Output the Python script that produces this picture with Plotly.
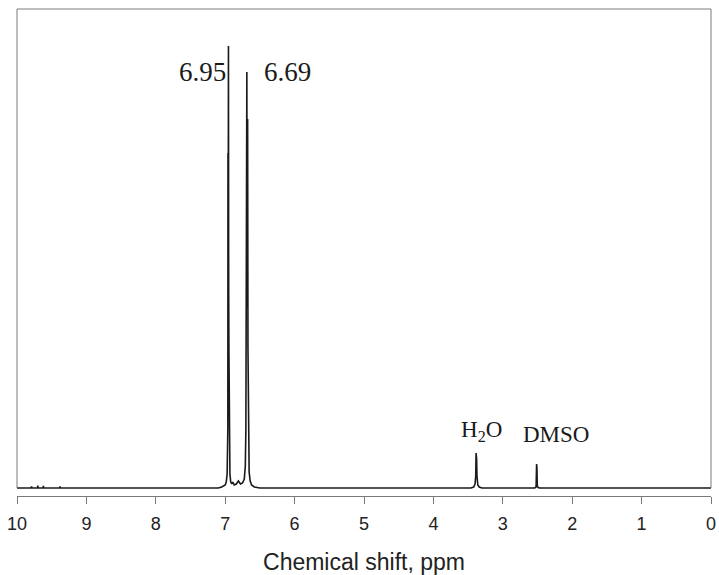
import plotly.graph_objects as go

# Spectrum trace (chemical shift in ppm, intensity in arbitrary units)
ppm = [10.0, 9.80, 9.79, 9.785, 9.705, 9.70, 9.695, 9.625, 9.62, 9.615, 9.385, 9.38, 9.375,
       7.10, 7.05, 7.00, 6.985, 6.972, 6.962, 6.960, 6.958, 6.953, 6.950, 6.946, 6.940,
       6.932, 6.920, 6.905, 6.89, 6.87, 6.84, 6.81, 6.78, 6.75, 6.725, 6.710, 6.702,
       6.699, 6.694, 6.688, 6.684, 6.677, 6.672, 6.665, 6.655, 6.64, 6.62, 6.58, 6.50,
       3.46, 3.42, 3.40, 3.39, 3.385, 3.378, 3.372, 3.36, 3.34, 3.30,
       2.54, 2.52, 2.513, 2.508, 2.503, 2.49, 2.47, 0.0]
intensity = [0, 0, 1.5, 0, 0, 2.5, 0, 0, 2, 0, 0, 1.5, 0,
             0, 1, 3, 6, 14, 60, 335, 150, 442, 200, 134, 40,
             14, 6, 4, 6, 3, 4, 7, 4, 5, 9, 22, 60,
             163, 120, 416, 180, 369, 140, 45, 16, 7, 3, 1, 0,
             0, 1, 4, 12, 35, 30, 12, 3, 1, 0,
             0, 1, 24, 20, 2, 0.5, 0, 0]

tick_vals = [10, 9, 8, 7, 6, 5, 4, 3, 2, 1, 0]
tick_text = [str(v) for v in tick_vals]

labels = ["6.95", "6.69", "H<sub>2</sub>O", "DMSO"]
label_x = [7.334, 6.102, 3.30, 2.233]
label_y = [416, 416, 57, 54]
label_size = [27, 27, 23, 23]

fig = go.Figure()
fig.add_trace(go.Scatter(x=ppm, y=intensity, mode="lines",
                         line=dict(color="#1a1a1a", width=1.6),
                         hoverinfo="skip", showlegend=False))

for t, x, y, s in zip(labels, label_x, label_y, label_size):
    fig.add_annotation(x=x, y=y, xref="x", yref="y", text=t, showarrow=False,
                       font=dict(family="Liberation Serif, Times New Roman, serif",
                                 size=s, color="#1a1a1a"))

box_bottom = 8 / 487
gray = "#7a7a7a"
for x0, y0, x1, y1 in [(0, box_bottom, 0, 1), (0, 1, 1, 1), (1, 1, 1, box_bottom)]:
    fig.add_shape(type="line", xref="paper", yref="paper", x0=x0, y0=y0, x1=x1, y1=y1,
                  line=dict(color=gray, width=1))

fig.update_layout(
    width=719, height=575,
    margin=dict(l=17, r=8, t=9, b=79, autoexpand=False),
    paper_bgcolor="white", plot_bgcolor="white",
    hovermode=False,
    xaxis=dict(range=[10, 0], tickvals=tick_vals, ticktext=tick_text,
               anchor="free", position=0, automargin=False,
               showline=True, linecolor=gray, linewidth=1,
               ticks="outside", ticklen=7, tickcolor=gray, tickwidth=1,
               ticklabelstandoff=4, ticklabeloverflow="allow",
               showgrid=False, zeroline=False,
               tickfont=dict(family="Liberation Sans, Arial, sans-serif", size=18, color="#222"),
               title=dict(text="Chemical shift, ppm", standoff=21,
                          font=dict(family="Liberation Sans, Arial, sans-serif", size=23, color="#222"))),
    yaxis=dict(range=[-3, 479], domain=[5 / 487, 1], visible=False, showgrid=False, zeroline=False),
)

fig.write_html("out.html", config={"displayModeBar": False},
               post_script="document.body.style.margin='0';document.body.style.overflow='hidden';")
